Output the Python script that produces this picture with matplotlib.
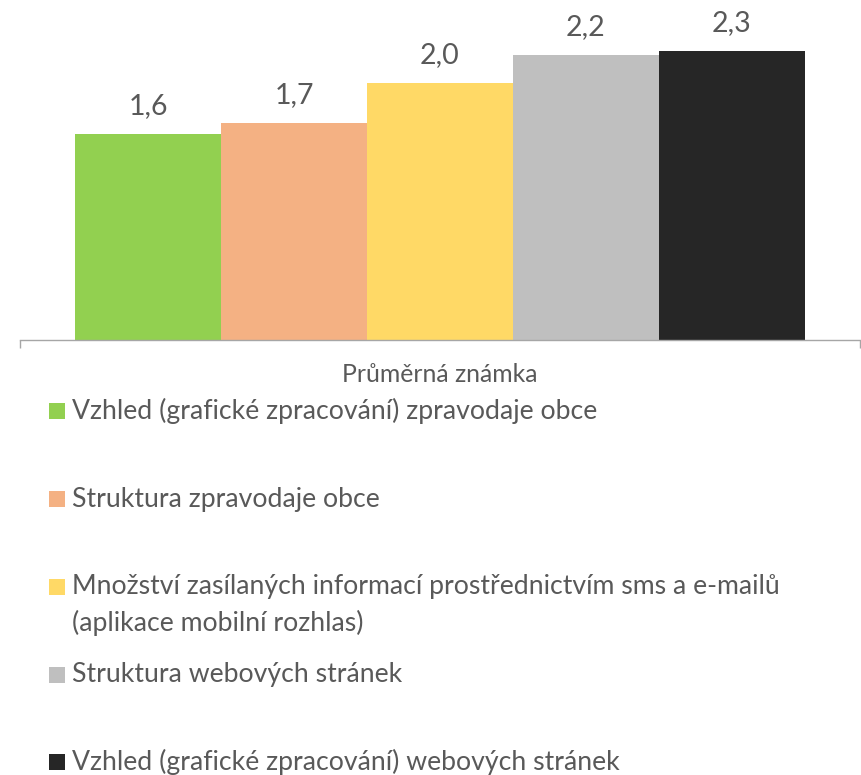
import matplotlib
matplotlib.use("Agg")
import matplotlib.pyplot as plt
from matplotlib.patches import Rectangle

# ---- data ----
category = "Průměrná známka"
series_names = [
    "Vzhled (grafické zpracování) zpravodaje obce",
    "Struktura zpravodaje obce",
    "Množství zasílaných informací prostřednictvím sms a e-mailů\n(aplikace mobilní rozhlas)",
    "Struktura webových stránek",
    "Vzhled (grafické zpracování) webových stránek",
]
values = [1.60, 1.69, 2.00, 2.22, 2.25]
value_labels = ["1,6", "1,7", "2,0", "2,2", "2,3"]
colors = ["#92D050", "#F4B183", "#FFD966", "#BFBFBF", "#262626"]

W, H = 862, 775
plt.rcParams['font.family'] = ['Lato', 'DejaVu Sans']
TXT = "#595959"

fig = plt.figure(figsize=(W / 100, H / 100), dpi=100)

# axes: baseline at y=340px, x from 20 to 860 px
base_px = 340
ymax = 2.5
px_per_unit = 128.5
top_px = base_px - ymax * px_per_unit
ax = fig.add_axes([20 / W, 1 - base_px / H, 840 / W, (base_px - top_px) / H])

n = len(values)
xs = list(range(n))
ax.bar(xs, values, width=1.0, color=colors, edgecolor='none')
pad = 55 / 146
ax.set_xlim(-0.5 - pad, n - 0.5 + pad)
ax.set_ylim(0, ymax)

for x, v, lab in zip(xs, values, value_labels):
    ax.annotate(lab, (x, v), xytext=(0, 28 * 72 / 100), textcoords='offset points',
                ha='center', va='center', fontsize=20.5, color=TXT)

for s in ['top', 'right', 'left']:
    ax.spines[s].set_visible(False)
ax.spines['bottom'].set_color('#A6A6A6')
ax.spines['bottom'].set_linewidth(1.0)
ax.set_yticks([])
ax.set_xticks([ax.get_xlim()[0], ax.get_xlim()[1]])
ax.set_xticklabels(["", ""])
ax.tick_params(axis='x', length=6, color='#A6A6A6', width=1.0, direction='out')

fig.text(440 / W, 1 - 374 / H, category, ha='center', va='center',
         fontsize=17.8, color=TXT)

# legend, manual
centers = [410.5, 499.5, 586.5, 674.5, 761.5]
line_gap = 36.5
for name, col, yc in zip(series_names, colors, centers):
    fig.patches.append(Rectangle((49 / W, 1 - (yc + 8) / H), 16 / W, 16 / H,
                                 transform=fig.transFigure, facecolor=col,
                                 edgecolor='none'))
    for i, line in enumerate(name.split("\n")):
        fig.text(72 / W, 1 - (yc + i * line_gap) / H, line, ha='left', va='center',
                 fontsize=19.2, color=TXT)

fig.savefig("out.png", dpi=100)
